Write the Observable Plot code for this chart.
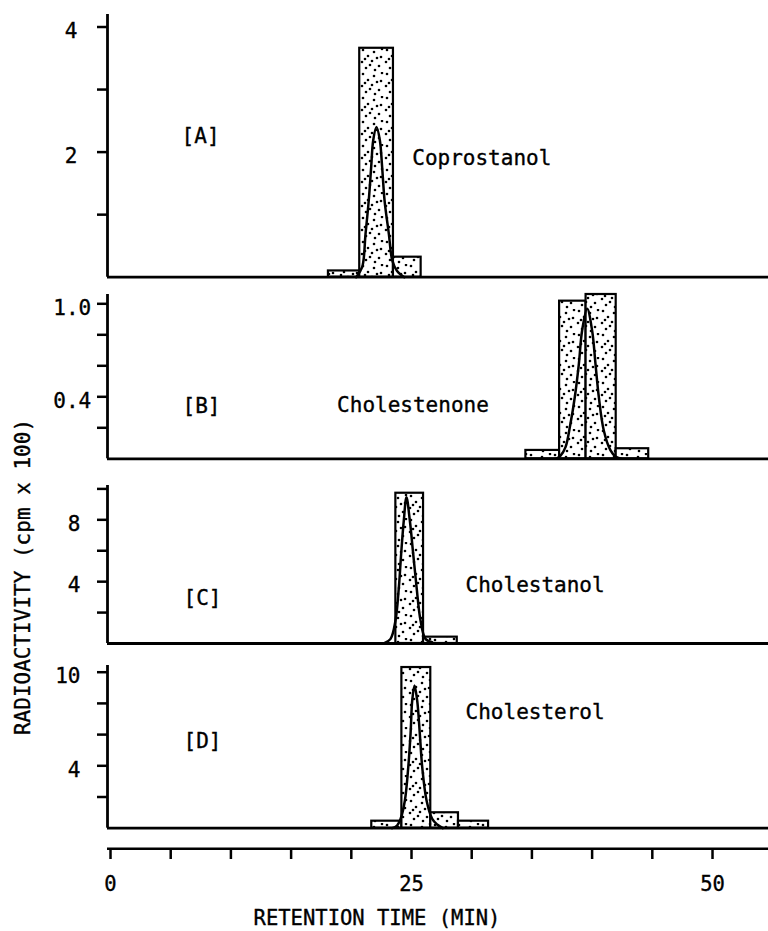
<!DOCTYPE html>
<html><head><meta charset="utf-8">
<script src="https://cdn.jsdelivr.net/npm/d3@7"></script>
<script src="https://cdn.jsdelivr.net/npm/@observablehq/plot@0.6"></script>
<style>
html,body{margin:0;padding:0;background:#fff;}
#chart{position:relative;width:768px;height:931px;overflow:hidden;font-family:"DejaVu Sans Mono",monospace;color:#000;}
#chart svg.pl{position:absolute;left:0;}
#chart svg.pl text{stroke:#000;stroke-width:0.35px;}
.ytitle{position:absolute;left:23px;top:577px;transform:translate(-50%,-50%) rotate(-90deg);white-space:nowrap;font-size:21px;font-family:"DejaVu Sans Mono",monospace;-webkit-text-stroke:0.35px #000;}
</style></head><body><div id="chart"></div>
<script>
// ---------- data (retention time in min, radioactivity in cpm x 100) ----------
const xTicks = [0, 5, 10, 15, 20, 25, 30, 35, 40, 45, 50];
const xTickLabels = [0, 25, 50];
const xTitle = "RETENTION TIME (MIN)";
const yTitle = "RADIOACTIVITY (cpm x 100)";

// Panel A: Coprostanol
const aEdges = [18.1, 20.7, 23.5, 25.8];
const aCounts = [0.1, 3.66, 0.32];
const aCurveT = [20.4, 20.9, 21.18, 21.45, 21.65, 21.82, 22.09, 22.37, 22.56, 22.76, 23.12, 23.4, 23.8, 24.4];
const aCurveY = [0, 0.16, 0.69, 1.23, 1.76, 2.19, 2.4, 2.19, 1.76, 1.23, 0.69, 0.27, 0.1, 0];
const aTicks = [1, 2, 3, 4];
const aTickLabels = [2, 4];

// Panel B: Cholestenone
const bEdges = [34.5, 37.3, 39.5, 42.0, 44.7];
const bCounts = [0.054, 1.017, 1.06, 0.065];
const bCurveT = [37.0, 37.38, 37.79, 38.2, 38.56, 38.9, 39.17, 39.59, 40.0, 40.28, 40.56, 40.97, 41.53, 41.94, 42.4];
const bCurveY = [0, 0.02, 0.075, 0.226, 0.397, 0.613, 0.828, 0.968, 0.828, 0.613, 0.397, 0.183, 0.054, 0.015, 0];
const bTicks = [0.2, 0.4, 0.6, 0.8, 1.0];
const bTickLabels = [0.4, 1.0];

// Panel C: Cholestanol
const cEdges = [23.7, 26.0, 28.8];
const cCounts = [9.72, 0.41];
const cCurveT = [22.7, 23.26, 23.67, 23.95, 24.14, 24.36, 24.58, 24.86, 25.14, 25.42, 25.75, 26.16, 26.72];
const cCurveY = [0, 0.3, 1.49, 3.64, 5.8, 7.96, 9.46, 7.96, 5.8, 3.64, 1.49, 0.3, 0.08];
const cTicks = [2, 4, 6, 8, 10];
const cTickLabels = [4, 8];

// Panel D: Cholesterol
const dEdges = [21.7, 24.2, 26.6, 28.9, 31.4];
const dCounts = [0.45, 10.3, 0.99, 0.45];
const dCurveT = [23.4, 23.8, 24.09, 24.45, 24.73, 24.92, 25.06, 25.25, 25.47, 25.69, 25.89, 26.25, 26.72, 27.13, 27.6];
const dCurveY = [0, 0.17, 0.6, 1.78, 3.91, 6.05, 8.19, 9.15, 8.19, 6.05, 3.91, 1.78, 0.6, 0.24, 0];
const dTicks = [2, 4, 6, 8, 10];
const dTickLabels = [4, 10];

// annotation labels [tag, tagX, tagY, compound, compX, compY]
const aLabel = ["[A]", 7.48, 2.25, "Coprostanol", 25.06, 1.9];
const bLabel = ["[B]", 7.56, 0.337, "Cholestenone", 18.82, 0.344];
const cLabel = ["[C]", 7.64, 2.91, "Cholestanol", 29.49, 3.75];
const dLabel = ["[D]", 7.64, 5.56, "Cholesterol", 29.49, 7.42];

// ---------- layout ----------
const W = 768;
const xDomain = [-0.25, 54.65];
const chart = document.getElementById("chart");

// stipple pattern
const dots = [[3,2],[14,4],[21,9],[8,8],[2,14],[12,13],[19,18],[6,20],[15,22],[22,1],[10,17],[17,10],[5,11]];
const ns = "http://www.w3.org/2000/svg";
const defsSvg = document.createElementNS(ns, "svg");
defsSvg.setAttribute("width", 0); defsSvg.setAttribute("height", 0);
defsSvg.style.position = "absolute";
defsSvg.innerHTML = `<defs><pattern id="stipple" patternUnits="userSpaceOnUse" width="24" height="24"><rect width="24" height="24" fill="white"/>${dots.map(([x,y]) => `<circle cx="${x}" cy="${y}" r="1.3" fill="black"/>`).join("")}</pattern></defs>`;
chart.appendChild(defsSvg);

const style = {fontFamily: "DejaVu Sans Mono", fontSize: "21px", background: "transparent", overflow: "visible", color: "black"};

function panel({edges, counts, curveT, curveY, ticks, tickLabels, label, yMax, top, height, mTop, mBottom, pad, fmt}) {
  const bars = counts.map((v, i) => ({x1: edges[i], x2: edges[i + 1], y: v}));
  const curve = curveT.map((t, i) => ({t, v: curveY[i]}));
  const svg = Plot.plot({
    width: W, height, marginLeft: 107, marginRight: 0, marginTop: mTop, marginBottom: mBottom,
    style,
    x: {domain: xDomain, axis: null},
    y: {domain: [0, yMax], axis: null, label: null},
    marks: [
      Plot.rectY(bars, {x1: "x1", x2: "x2", y: "y", fill: "url(#stipple)", stroke: "black", strokeWidth: 2.2}),
      Plot.line(curve, {x: "t", y: "v", curve: "catmull-rom", stroke: "black", strokeWidth: 2.5}),
      Plot.ruleY([0], {stroke: "black", strokeWidth: 2.8}),
      Plot.ruleX([xDomain[0]], {stroke: "black", strokeWidth: 2.8}),
      Plot.axisY({ticks, tickSize: 10, tickFormat: () => "", strokeWidth: 2.5, label: null}),
      Plot.axisY({ticks: tickLabels, tickSize: 0, tickPadding: 10 + pad, tickFormat: fmt, dy: 4, label: null}),
      Plot.text([label], {x: d => d[1], y: d => d[2], text: d => d[0], textAnchor: "middle", lineAnchor: "middle"}),
      Plot.text([label], {x: d => d[4], y: d => d[5], text: d => d[3], textAnchor: "start", lineAnchor: "middle"})
    ]
  });
  svg.classList.add("pl");
  svg.style.top = top + "px";
  chart.appendChild(svg);
}

panel({edges: aEdges, counts: aCounts, curveT: aCurveT, curveY: aCurveY, ticks: aTicks, tickLabels: aTickLabels, label: aLabel,
  yMax: 4.2, top: 0, height: 285, mTop: 14, mBottom: 8.3, pad: 20, fmt: d => String(d)});
panel({edges: bEdges, counts: bCounts, curveT: bCurveT, curveY: bCurveY, ticks: bTicks, tickLabels: bTickLabels, label: bLabel,
  yMax: 1.06, top: 285, height: 185, mTop: 9, mBottom: 11.7, pad: 6.3, fmt: d3.format(".1f")});
panel({edges: cEdges, counts: cCounts, curveT: cCurveT, curveY: cCurveY, ticks: cTicks, tickLabels: cTickLabels, label: cLabel,
  yMax: 10.22, top: 470, height: 185, mTop: 15, mBottom: 12, pad: 17, fmt: d => String(d)});
panel({edges: dEdges, counts: dCounts, curveT: dCurveT, curveY: dCurveY, ticks: dTicks, tickLabels: dTickLabels, label: dLabel,
  yMax: 10.43, top: 655, height: 183, mTop: 10, mBottom: 10.3, pad: 17, fmt: d => String(d)});

// bottom x axis
const axisSvg = Plot.plot({
  width: W, height: 93, marginLeft: 107, marginRight: 0, marginTop: 0, marginBottom: 82.7,
  style: {...style, fontSize: "20.5px"},
  x: {domain: xDomain, axis: null},
  y: {domain: [0, 1], axis: null},
  marks: [
    Plot.ruleY([0], {stroke: "black", strokeWidth: 2.6}),
    Plot.axisX({ticks: xTicks, tickSize: 10.7, tickPadding: 16.5, strokeWidth: 2.5, label: null,
      tickFormat: d => xTickLabels.includes(d) ? String(d) : ""}),
    Plot.text([xTitle], {frameAnchor: "bottom-left", text: d => d, dx: 269.5, dy: 69.7, textAnchor: "middle", lineAnchor: "middle"})
  ]
});
axisSvg.classList.add("pl");
axisSvg.style.top = "838px";
chart.appendChild(axisSvg);

const yt = document.createElement("div");
yt.className = "ytitle";
yt.textContent = yTitle;
chart.appendChild(yt);
</script></body></html>
